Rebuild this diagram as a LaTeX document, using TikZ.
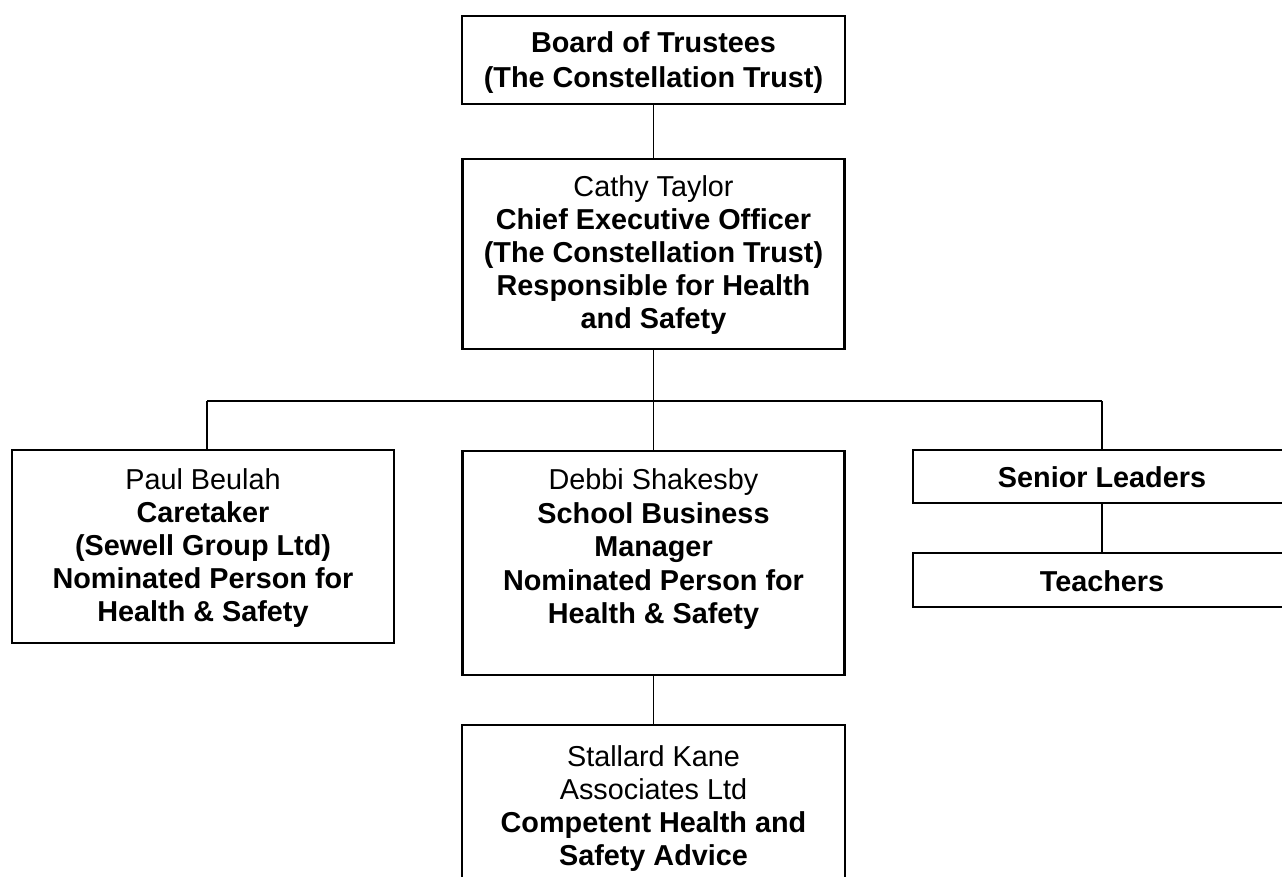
\documentclass[tikz,border=0pt]{standalone}
\usepackage{fontspec}
\setmainfont{Liberation Sans}
\tikzset{
  box/.style={draw=black, line width=2.2pt, rectangle, inner sep=0pt, fill=white},
  txt/.style={align=center, inner sep=0pt, font=\fontsize{28.8}{33}\selectfont},
  conn/.style={draw=black, line width=1.1pt}
}
\begin{document}
\begin{tikzpicture}[x=1pt,y=-1pt]
\useasboundingbox (0,0) rectangle (1282,877);
\fill[white] (0,0) rectangle (1282,877);
\begin{scope}
\clip (0,0) rectangle (1282,877);
\coordinate (bus) at (653.5,401);
% boxes
\node[box, minimum width=383pt, minimum height=88pt] (board) at (653.5,60) {};
\node[box, minimum width=382pt, minimum height=190pt] (ceo) at (653.5,254) {};
\node[box, minimum width=382pt, minimum height=193pt] (paul) at (203,546.5) {};
\node[box, minimum width=382pt, minimum height=224pt] (debbi) at (653.5,563) {};
\node[box, minimum width=378pt, minimum height=53pt] (senior) at (1102,476.5) {};
\node[box, minimum width=378pt, minimum height=54pt] (teachers) at (1102,580) {};
\node[box, minimum width=383pt, minimum height=190pt] (stallard) at (653.5,820) {};
% connectors
\draw[conn] (board.south) -- (ceo.north);
\draw[conn] (ceo.south) -- (bus);
\draw[conn] ([xshift=4pt]paul.north |- bus) -- (senior.north |- bus);
\draw[conn] ([xshift=4pt]paul.north |- bus) -- ([xshift=4pt]paul.north);
\draw[conn] (bus) -- (debbi.north);
\draw[conn] (senior.north |- bus) -- (senior.north);
\draw[conn] (senior.south) -- (teachers.north);
\draw[conn] (debbi.south) -- (stallard.north);
% texts
\node[txt, font=\fontsize{28.8}{35}\selectfont] (boardtxt) at ([yshift=-2.5pt]board.center) {\bfseries Board of Trustees\\\bfseries (The Constellation Trust)};
\node[txt] (ceotxt) at ([yshift=-1.5pt]ceo.center) {Cathy Taylor\\\bfseries Chief Executive Officer\\\bfseries (The Constellation Trust)\\\bfseries Responsible for Health\\\bfseries and Safety};
\node[txt] (paultxt) at ([yshift=-2pt]paul.center) {Paul Beulah\\\bfseries Caretaker\\\bfseries (Sewell Group Ltd)\\\bfseries Nominated Person for\\\bfseries Health \& Safety};
\node[txt, anchor=north, font=\fontsize{28.8}{33.5}\selectfont] (debbitxt) at ([yshift=-19pt]debbi.north) {Debbi Shakesby\\\bfseries School Business\\\bfseries Manager\\\bfseries Nominated Person for\\\bfseries Health \& Safety};
\node[txt] (seniortxt) at ([yshift=-1pt]senior.center) {\bfseries Senior Leaders};
\node[txt] (teacherstxt) at ([yshift=-1pt]teachers.center) {\bfseries Teachers};
\node[txt, anchor=north] (stallardtxt) at ([yshift=-22pt]stallard.north) {Stallard Kane\\Associates Ltd\\\bfseries Competent Health and\\\bfseries Safety Advice};
\end{scope}
\end{tikzpicture}
\end{document}
